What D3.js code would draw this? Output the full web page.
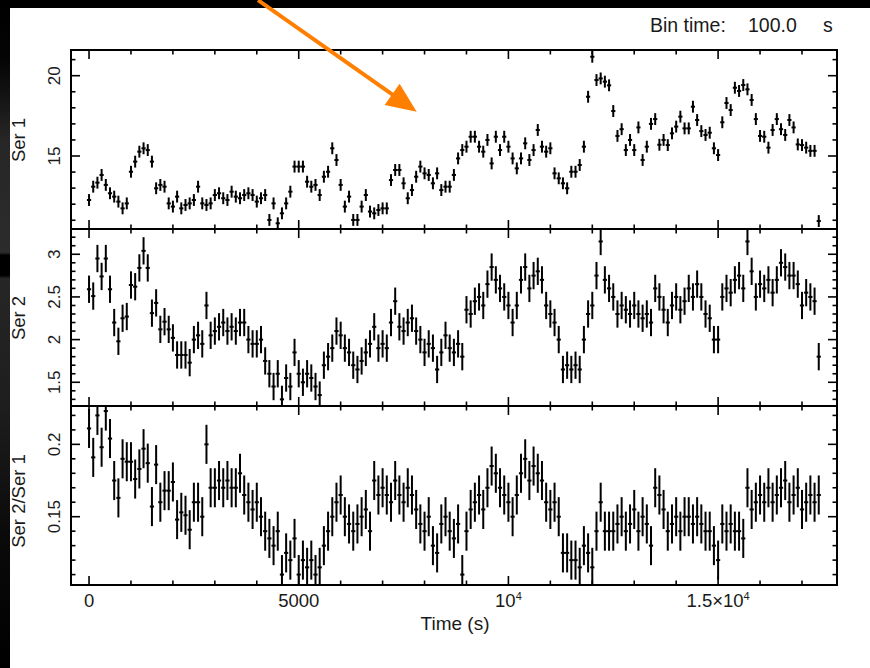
<!DOCTYPE html>
<html>
<head>
<meta charset="utf-8">
<script src="https://cdn.jsdelivr.net/npm/d3@7"></script>
<style>
  body { margin: 0; background: #000; }
  svg { display: block; }
  text { font-family: "Liberation Sans", Arial, Helvetica, sans-serif; fill: #1a1a1a; }
</style>
</head>
<body>
<svg id="chart" width="870" height="668"></svg>
<script>
// Light curve, 100 s bins starting at t = 0
const binTime = 100;

const ser1 = [
  12.26, 13.09, 13.34, 13.82, 13.2, 12.68, 12.47, 12.16, 11.74, 12.05,
  14.02, 14.65, 15.27, 15.48, 15.37, 14.65, 12.99, 13.2, 13.09, 12.05,
  11.85, 12.47, 11.74, 11.95, 12.05, 12.26, 13.09, 12.05, 11.95, 12.05,
  12.57, 12.68, 12.37, 12.26, 12.78, 12.47, 12.37, 12.57, 12.68, 12.57,
  12.16, 12.37, 12.57, 11.02, 12.05, 10.81, 11.43, 12.05, 12.78, 14.34,
  14.34, 14.34, 13.4, 13.09, 13.2, 12.57, 13.71, 14.02, 15.48, 14.75,
  13.2, 11.85, 12.47, 11.02, 11.02, 11.85, 12.57, 11.54, 11.43, 11.64,
  11.74, 11.74, 13.5, 14.13, 14.13, 13.3, 12.37, 12.88, 13.71, 14.34,
  13.92, 13.82, 13.3, 13.92, 12.88, 13.09, 13.09, 13.82, 14.85, 15.37,
  15.58, 16.2, 16.2, 15.58, 15.27, 16.0, 14.54, 16.2, 15.37, 16.2,
  15.58, 14.85, 14.23, 14.85, 15.79, 14.75, 15.37, 16.62, 15.58, 15.27,
  15.48, 13.92, 13.61, 13.3, 12.99, 14.02, 14.02, 14.44, 15.58, 18.69,
  21.18, 19.73, 19.83, 19.63, 19.4, 17.8, 16.25, 16.67, 15.37, 16.0,
  15.37, 16.78, 14.75, 15.58, 17.0, 17.3, 15.7, 16.0, 15.68, 16.41,
  16.83, 17.45, 16.72, 16.72, 18.07, 17.24, 16.55, 16.31, 16.45, 15.48,
  15.06, 17.1, 18.3, 17.86, 19.25, 19.05, 19.42, 19.15, 18.49, 17.3,
  16.25, 16.2, 15.52, 16.62, 17.3, 16.67, 16.31, 17.24, 16.78, 15.72,
  15.68, 15.52, 15.32, 15.32, 10.95
];

const ser2 = [
  2.59, 2.51, 2.95, 2.74, 2.95, 2.59, 2.2, 1.98, 2.25, 2.27,
  2.64, 2.62, 2.84, 3.04, 2.84, 2.31, 2.43, 2.12, 2.21, 2.12,
  2.02, 1.82, 1.82, 1.82, 1.73, 2.0, 2.05, 1.95, 2.4, 2.05,
  2.1, 2.15, 2.2, 2.1, 2.15, 2.1, 2.2, 2.2, 2.0, 1.95,
  1.95, 2.0, 1.75, 1.6, 1.45, 1.6, 1.3, 1.55, 1.45, 1.85,
  1.6, 1.5, 1.6, 1.55, 1.45, 1.35, 1.7, 1.8, 1.9, 2.1,
  2.05, 1.9, 1.85, 1.7, 1.65, 1.75, 1.85, 1.95, 2.15, 1.9,
  1.95, 1.9, 2.2, 2.45, 2.15, 2.1, 2.2, 2.25, 2.1, 2.0,
  1.85, 1.95, 1.9, 1.65, 1.85, 2.05, 1.9, 1.85, 1.95, 1.8,
  2.35, 2.3, 2.45, 2.5, 2.4, 2.65, 2.85, 2.7, 2.6, 2.5,
  2.4, 2.2, 2.4, 2.7, 2.85, 2.6, 2.75, 2.8, 2.7, 2.4,
  2.3, 2.2, 2.0, 1.65, 1.7, 1.65, 1.7, 1.65, 2.0, 2.3,
  2.4, 2.75, 3.15, 2.7, 2.6, 2.5, 2.3, 2.4, 2.35, 2.3,
  2.4, 2.3, 2.25, 2.3, 2.2, 2.6, 2.5, 2.35, 2.2, 2.4,
  2.5, 2.35, 2.45, 2.6, 2.5, 2.65, 2.5, 2.3, 2.25, 2.0,
  2.0, 2.5, 2.6, 2.55, 2.7, 2.75, 2.6, 3.15, 2.8, 2.5,
  2.65, 2.6, 2.7, 2.55, 2.7, 2.9, 2.85, 2.75, 2.75, 2.65,
  2.4, 2.55, 2.5, 2.45, 1.8
];

const ratio = [
  0.211, 0.191, 0.22, 0.198, 0.223, 0.204, 0.175, 0.163, 0.19, 0.188,
  0.188, 0.176, 0.183, 0.197, 0.187, 0.157, 0.186, 0.16, 0.168, 0.168,
  0.174, 0.148, 0.153, 0.151, 0.141, 0.16, 0.16, 0.15, 0.2, 0.17,
  0.17, 0.175, 0.17, 0.175, 0.17, 0.17, 0.18, 0.165, 0.16, 0.155,
  0.16, 0.15, 0.14, 0.135, 0.13, 0.14, 0.11, 0.125, 0.12, 0.135,
  0.11, 0.12, 0.115, 0.12, 0.11, 0.115, 0.13, 0.14, 0.15, 0.16,
  0.165, 0.15, 0.145, 0.14, 0.145, 0.15, 0.155, 0.14, 0.175, 0.165,
  0.17, 0.165, 0.16, 0.175, 0.165, 0.16, 0.17, 0.165, 0.155, 0.145,
  0.14, 0.15, 0.13, 0.125, 0.145, 0.15, 0.14, 0.135, 0.145, 0.11,
  0.14, 0.155, 0.16, 0.165, 0.155, 0.17, 0.185, 0.18, 0.17, 0.165,
  0.16, 0.15, 0.165, 0.18, 0.19, 0.175, 0.185, 0.18, 0.175, 0.16,
  0.155, 0.16, 0.15, 0.125, 0.125, 0.12, 0.12, 0.115, 0.13, 0.125,
  0.115, 0.14, 0.16, 0.14, 0.14, 0.14, 0.145, 0.15, 0.14, 0.145,
  0.155, 0.14, 0.15, 0.145, 0.13, 0.17, 0.165, 0.155, 0.14, 0.145,
  0.15, 0.14, 0.15, 0.15, 0.145, 0.15, 0.145, 0.14, 0.14, 0.13,
  0.12, 0.145, 0.14, 0.145, 0.14, 0.14, 0.135, 0.17, 0.155, 0.16,
  0.165, 0.16, 0.17, 0.16, 0.165, 0.17, 0.175, 0.16, 0.165, 0.17,
  0.155, 0.16, 0.165, 0.16, 0.165
];

// one-sigma half-heights of the error bars
const ser1Err = 0.37;
const ser2Err = 0.16;
const ratioErr = 0.0135;

const timeMajor = [0, 5000, 10000, 15000];
const panelNames = ["Ser 1", "Ser 2", "Ser 2/Ser 1"];
const ser1Ticks = [15, 20];
const ser2Ticks = [1.5, 2, 2.5, 3];
const ratioTicks = [0.15, 0.2];

// ---------------------------------------------------------------------
const svg = d3.select("#chart");
const W = 870, H = 668;

// window frame: dark strips along top and left
const defs = svg.append("defs");
const grad = defs.append("linearGradient").attr("id", "edge")
  .attr("x1", 0).attr("y1", 0).attr("x2", 0).attr("y2", 1);
[[0, "#000"], [0.08, "#050505"], [0.2, "#262626"], [0.37, "#2c2c2c"], [0.375, "#000"],
 [0.405, "#000"], [0.41, "#262626"], [0.6, "#1e1e1e"], [0.8, "#0a0a0a"], [1, "#000"]]
  .forEach(([o, c]) => grad.append("stop").attr("offset", o).attr("stop-color", c));
svg.append("rect").attr("width", W).attr("height", H).attr("fill", "#000");
svg.append("rect").attr("x", 0).attr("y", 8).attr("width", 10).attr("height", H - 8).attr("fill", "url(#edge)");
svg.append("rect").attr("x", 10).attr("y", 8).attr("width", W - 10).attr("height", H - 8).attr("fill", "#fff");

const plotL = 71, plotR = 837;
const x = d3.scaleLinear().domain([-430, 17835]).range([plotL, plotR]);

const panels = [
  { name: panelNames[0], values: ser1, err: ser1Err, domain: [10.455, 21.6], top: 50, bottom: 229,
    major: ser1Ticks, minor: d3.range(11, 22, 1), fmt: d3.format("d"), labelY: 140 },
  { name: panelNames[1], values: ser2, err: ser2Err, domain: [1.222, 3.296], top: 229, bottom: 406,
    major: ser2Ticks, minor: d3.range(13, 33).map(d => d / 10), fmt: d => String(d), labelY: 318 },
  { name: panelNames[2], values: ratio, err: ratioErr, domain: [0.1028, 0.2265], top: 406, bottom: 585,
    major: ratioTicks, minor: d3.range(11, 23).map(d => d / 100), fmt: d => String(d), labelY: 501 }
];

const timeMinor = d3.range(0, 18000, 1000);
const majorLen = 9, minorLen = 4.5;

panels.forEach((p, i) => {
  const y = d3.scaleLinear().domain(p.domain).range([p.bottom, p.top]);
  const g = svg.append("g");
  const clipId = "clip" + i;
  defs.append("clipPath").attr("id", clipId).append("rect")
    .attr("x", plotL).attr("y", p.top).attr("width", plotR - plotL).attr("height", p.bottom - p.top);

  // data: cross for each bin (time width and one-sigma error)
  const pts = p.values.map((v, k) => ({ t: k * binTime, v }));
  const marks = g.append("g").attr("clip-path", `url(#${clipId})`)
    .attr("stroke", "#000").attr("stroke-width", 2);
  marks.selectAll("line.ev").data(pts).join("line").attr("class", "ev")
    .attr("x1", d => x(d.t)).attr("x2", d => x(d.t))
    .attr("y1", d => y(d.v - p.err)).attr("y2", d => y(d.v + p.err));
  marks.selectAll("line.eh").data(pts).join("line").attr("class", "eh")
    .attr("x1", d => x(d.t - binTime / 2)).attr("x2", d => x(d.t + binTime / 2))
    .attr("y1", d => y(d.v)).attr("y2", d => y(d.v));

  // ticks on all four sides, pointing inwards
  const axes = g.append("g").attr("stroke", "#000").attr("stroke-width", 1.6);
  const inDomainY = p.minor.filter(d => d > p.domain[0] && d < p.domain[1]);
  [[plotL, 1], [plotR, -1]].forEach(([x0, dir]) => {
    axes.selectAll(null).data(inDomainY).join("line")
      .attr("x1", x0).attr("x2", d => x0 + dir * (p.major.some(m => Math.abs(m - d) < 1e-9) ? majorLen : minorLen))
      .attr("y1", d => y(d)).attr("y2", d => y(d));
  });
  [[p.top, 1], [p.bottom, -1]].forEach(([y0, dir]) => {
    axes.selectAll(null).data(timeMinor).join("line")
      .attr("x1", d => x(d)).attr("x2", d => x(d))
      .attr("y1", y0).attr("y2", d => y0 + dir * (timeMajor.includes(d) ? majorLen : minorLen));
  });

  // frame
  g.append("rect").attr("x", plotL).attr("y", p.top)
    .attr("width", plotR - plotL).attr("height", p.bottom - p.top)
    .attr("fill", "none").attr("stroke", "#000").attr("stroke-width", 2);

  // y tick labels, rotated
  g.selectAll("text.yt").data(p.major).join("text").attr("class", "yt")
    .attr("transform", d => `translate(60,${y(d)}) rotate(-90)`)
    .attr("text-anchor", "middle").attr("font-size", 17)
    .text(p.fmt);

  // panel label
  g.append("text")
    .attr("transform", `translate(25,${p.labelY}) rotate(-90)`)
    .attr("text-anchor", "middle").attr("font-size", 18.5)
    .text(p.name);
});

// time axis labels
const xl = svg.append("g").attr("font-size", 18.5).attr("text-anchor", "middle");
xl.append("text").attr("x", x(0)).attr("y", 607).text("0");
xl.append("text").attr("x", x(5000)).attr("y", 607).text("5000");
const t4 = xl.append("text").attr("x", x(10000)).attr("y", 607);
t4.append("tspan").text("10");
t4.append("tspan").attr("dy", -7).attr("font-size", 11).text("4");
const t15 = xl.append("text").attr("x", x(15000)).attr("y", 607);
t15.append("tspan").text("1.5×10");
t15.append("tspan").attr("dy", -7).attr("font-size", 11).text("4");
svg.append("text").attr("x", 455).attr("y", 630)
  .attr("text-anchor", "middle").attr("font-size", 19).text("Time (s)");

// bin size note
const note = svg.append("g").attr("font-size", 19.5);
note.append("text").attr("x", 650).attr("y", 32).text("Bin time:");
note.append("text").attr("x", 748).attr("y", 32).text("100.0");
note.append("text").attr("x", 823).attr("y", 32).text("s");

// annotation arrow, placed in the Ser 1 coordinate frame
const arrowT = [4030, 7813];
const arrowV = [24.7, 17.76];
const yTop = d3.scaleLinear().domain(panels[0].domain).range([panels[0].bottom, panels[0].top]);
const ax0 = x(arrowT[0]), ay0 = yTop(arrowV[0]), ax1 = x(arrowT[1]), ay1 = yTop(arrowV[1]);
const ang = Math.atan2(ay1 - ay0, ax1 - ax0);
const headLen = 30, headHalf = 13;
const bx = ax1 - headLen * Math.cos(ang), by = ay1 - headLen * Math.sin(ang);
svg.append("line").attr("x1", ax0).attr("y1", ay0).attr("x2", bx + 4 * Math.cos(ang)).attr("y2", by + 4 * Math.sin(ang))
  .attr("stroke", "#ff7f00").attr("stroke-width", 4);
svg.append("path")
  .attr("d", d3.line()([
    [ax1, ay1],
    [bx + headHalf * Math.sin(ang), by - headHalf * Math.cos(ang)],
    [bx - headHalf * Math.sin(ang), by + headHalf * Math.cos(ang)]
  ]) + "Z")
  .attr("fill", "#ff7f00");
</script>
</body>
</html>
